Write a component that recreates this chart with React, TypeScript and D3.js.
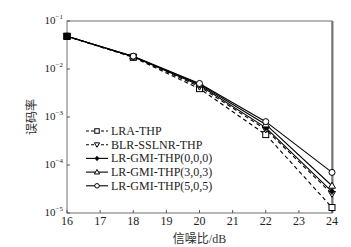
import React from "react";
import * as d3 from "d3";

const snr = [16, 18, 20, 22, 24];
const lra = [0.048, 0.0175, 0.0039, 0.00043, 0.000013];
const blr = [0.048, 0.018, 0.0043, 0.00055, 0.000025];
const g000 = [0.048, 0.018, 0.0046, 0.0006, 0.000028];
const g303 = [0.048, 0.0182, 0.0048, 0.0007, 0.000037];
const g505 = [0.048, 0.0185, 0.005, 0.0008, 0.00007];
const xTicks = [16, 17, 18, 19, 20, 21, 22, 23, 24];
const yExps = [-1, -2, -3, -4, -5];
const seriesNames = ["LRA-THP", "BLR-SSLNR-THP", "LR-GMI-THP(0,0,0)", "LR-GMI-THP(3,0,3)", "LR-GMI-THP(5,0,5)"];

const W = 351, H = 247;
const m = { l: 67, r: 332, t: 21, b: 213 };

export default function App() {
  const x = d3.scaleLinear().domain([16, 24]).range([m.l, m.r]);
  const y = d3.scaleLog().domain([1e-5, 1e-1]).range([m.b, m.t]);
  const line = d3.line<number>().x((_, i) => x(snr[i])).y((v) => y(v));
  const series = [
    { name: seriesNames[0], vals: lra, dash: "4,3", marker: "square" },
    { name: seriesNames[1], vals: blr, dash: "4,3", marker: "down" },
    { name: seriesNames[2], vals: g000, dash: null, marker: "diamond" },
    { name: seriesNames[3], vals: g303, dash: null, marker: "up" },
    { name: seriesNames[4], vals: g505, dash: null, marker: "circle" },
  ];
  const font = "'Liberation Serif', 'Times New Roman', serif";
  const marker = (type: string, cx: number, cy: number, key: any, k = 1) => {
    const s = 3 * k;
    if (type === "square")
      return <rect key={key} x={cx - s} y={cy - s} width={2 * s} height={2 * s} fill="white" stroke="black" strokeWidth={1} />;
    if (type === "down")
      return <path key={key} d={`M${cx - 3.5 * k},${cy - 2.5 * k}L${cx + 3.5 * k},${cy - 2.5 * k}L${cx},${cy + 3.5 * k}Z`} fill="white" stroke="black" strokeWidth={1} />;
    if (type === "up")
      return <path key={key} d={`M${cx - 3.5 * k},${cy + 2.5 * k}L${cx + 3.5 * k},${cy + 2.5 * k}L${cx},${cy - 3.5 * k}Z`} fill="white" stroke="black" strokeWidth={1} />;
    if (type === "diamond")
      return <path key={key} d={`M${cx},${cy - 3 * k}L${cx + 2.5 * k},${cy}L${cx},${cy + 3 * k}L${cx - 2.5 * k},${cy}Z`} fill="black" stroke="black" strokeWidth={0.8} />;
    return <circle key={key} cx={cx} cy={cy} r={3 * k} fill="white" stroke="black" strokeWidth={1} />;
  };
  const legX = 86, legY0 = 131, legDy = 13.7;
  return (
    <svg width={W} height={H} style={{ position: "absolute", left: 0, top: 0 }}>
      <rect width={W} height={H} fill="white" />
      <rect x={m.l} y={m.t} width={m.r - m.l} height={m.b - m.t} fill="none" stroke="#888" strokeWidth={1.2} />
      <line x1={m.r + 0.5} x2={m.r + 0.5} y1={m.t} y2={m.b} stroke="#777" strokeWidth={2} />
      {xTicks.map((t) => (
        <g key={t}>
          <line x1={x(t)} x2={x(t)} y1={m.b} y2={m.b - 3} stroke="#555" />
          <text x={x(t)} y={m.b + 12} textAnchor="middle" fontFamily={font} fontSize={12} fill="#222">{t}</text>
        </g>
      ))}
      {yExps.map((e) => (
        <g key={e}>
          <line x1={m.l} x2={m.l + 3} y1={y(Math.pow(10, e))} y2={y(Math.pow(10, e))} stroke="#555" />
          <text x={m.l - 4} y={y(Math.pow(10, e)) + 3} textAnchor="end" fontFamily={font} fontSize={11} fill="#222">
            10<tspan dy={-5} fontSize={7}>{"\u2212" + Math.abs(e)}</tspan>
          </text>
        </g>
      ))}
      <text transform={`translate(36,${(m.t + m.b) / 2}) rotate(-90)`} textAnchor="middle" fontFamily="'Noto Sans CJK SC'" fontSize={12} fill="#333">误码率</text>
      <text x={(m.l + m.r) / 2} y={243} textAnchor="middle" fontFamily={`${font}, 'Noto Sans CJK SC'`} fontSize={12} fill="#333">
        <tspan fontFamily="'Noto Sans CJK SC'">信噪比</tspan>/dB
      </text>
      {series.map((s, si) => (
        <g key={si}>
          <path d={line(s.vals) || ""} fill="none" stroke="black" strokeWidth={1.1} strokeDasharray={s.dash || undefined} />
          {s.vals.map((v, i) => marker(s.marker, x(snr[i]), y(v), i))}
        </g>
      ))}
      <rect x={x(16) - 3.5} y={y(0.048) - 3.5} width={7} height={7} fill="black" />
      {series.map((s, i) => {
        const ly = legY0 + i * legDy;
        return (
          <g key={i}>
            <line x1={legX} x2={legX + 22} y1={ly} y2={ly} stroke="black" strokeWidth={1.1} strokeDasharray={s.dash ? "3,2" : undefined} />
            {marker(s.marker, legX + 11, ly, "m", 0.75)}
            <text x={legX + 25} y={ly + 4} fontFamily={font} fontSize={12} fill="#222">{s.name}</text>
          </g>
        );
      })}
    </svg>
  );
}
